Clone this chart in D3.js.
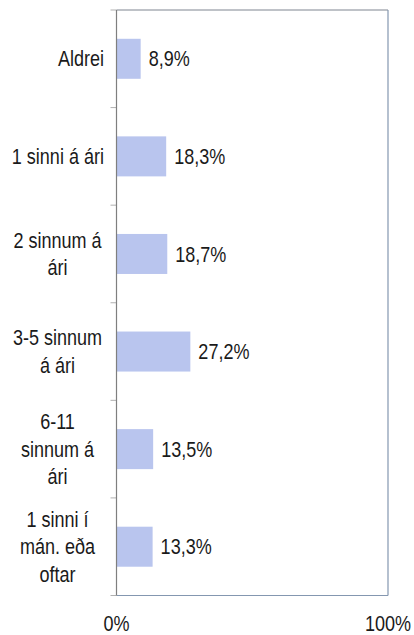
<!DOCTYPE html>
<html>
<head>
<meta charset="utf-8">
<script src="https://cdn.jsdelivr.net/npm/d3@7"></script>
<style>
  body { margin: 0; background: #fff; }
  svg text { font-family: "Liberation Sans", Arial, sans-serif; font-size: 22px; fill: #1a1a1a; }
</style>
</head>
<body>
<div id="chart"></div>
<script>
// category labels (line breaks as in the original chart)
const categories = [
    ["Aldrei"],
    ["1 sinni á ári"],
    ["2 sinnum á", "ári"],
    ["3-5 sinnum", "á ári"],
    ["6-11", "sinnum á", "ári"],
    ["1 sinni í", "mán. eða", "oftar"]
];
const values = [8.9, 18.3, 18.7, 27.2, 13.5, 13.3];
const xTicks = [0, 100];

const width = 414, height = 635;
const margin = {top: 10, right: 26, bottom: 39.5, left: 116.5};
const narrow = 0.82; // no Arial Narrow installed -> squeeze the regular face

let svg = d3.select("#chart").append("svg")
    .attr("width", width)
    .attr("height", height);

let keys = categories.map(function(d, i) { return i; });

let x = d3.scaleLinear()
    .domain([0, 100])
    .range([margin.left, width - margin.right]);

let y = d3.scaleBand()
    .domain(keys)
    .range([margin.top, height - margin.bottom]);

let barH = y.bandwidth() * 0.41;
let lineH = 27.5;

function place(px, py) {
    return "translate(" + px + "," + py + ") scale(" + narrow + ",1)";
}

// plot frame: top + right + bottom
svg.append("line")
    .attr("x1", x(0)).attr("x2", x(100))
    .attr("y1", margin.top).attr("y2", margin.top)
    .attr("stroke", "#7f8590").attr("stroke-width", 1);
svg.append("line")
    .attr("x1", x(100)).attr("x2", x(100))
    .attr("y1", margin.top).attr("y2", height - margin.bottom)
    .attr("stroke", "#8497b0").attr("stroke-width", 1.2);
svg.append("line")
    .attr("x1", x(0)).attr("x2", x(100))
    .attr("y1", height - margin.bottom).attr("y2", height - margin.bottom)
    .attr("stroke", "#8497b0").attr("stroke-width", 1.2);

// bars
svg.append("g")
    .selectAll("rect")
    .data(values)
    .enter().append("rect")
    .attr("x", x(0))
    .attr("y", function(d, i) { return y(i) + (y.bandwidth() - barH) / 2; })
    .attr("width", function(d) { return x(d) - x(0); })
    .attr("height", barH)
    .attr("fill", "#b9c5ee");

// value labels
svg.append("g")
    .selectAll("text")
    .data(values)
    .enter().append("text")
    .attr("transform", function(d, i) { return place(x(d) + 8, y(i) + y.bandwidth() / 2); })
    .attr("dy", "0.35em")
    .text(function(d) { return d.toFixed(1).replace(".", ",") + "%"; });

// left axis with ticks on band boundaries
let yTicks = keys.map(function(k) { return y(k); }).concat([height - margin.bottom]);
svg.append("g")
    .selectAll("line")
    .data(yTicks)
    .enter().append("line")
    .attr("x1", x(0) - 6).attr("x2", x(0))
    .attr("y1", function(d) { return d; }).attr("y2", function(d) { return d; })
    .attr("stroke", "#b0b0b0");
svg.append("line")
    .attr("x1", x(0)).attr("x2", x(0))
    .attr("y1", margin.top).attr("y2", height - margin.bottom)
    .attr("stroke", "#7f7f7f").attr("stroke-width", 1.2);

// category labels: single line right-aligned, wrapped ones centered
let labels = svg.append("g")
    .selectAll("text")
    .data(categories)
    .enter().append("text")
    .attr("text-anchor", function(d) { return d.length > 1 ? "middle" : "end"; })
    .attr("transform", function(d, i) {
        return place(d.length > 1 ? 57.5 : 104, y(i) + y.bandwidth() / 2);
    });
labels.each(function(lines) {
    let t = d3.select(this);
    let y0 = -(lines.length - 1) / 2 * lineH;
    lines.forEach(function(l, j) {
        t.append("tspan")
            .attr("x", 0)
            .attr("dy", j === 0 ? (y0 + 7.7) : lineH)
            .text(l);
    });
});

// bottom tick labels
svg.append("g")
    .selectAll("text")
    .data(xTicks)
    .enter().append("text")
    .attr("transform", function(d) { return place(x(d), height - 4); })
    .attr("text-anchor", "middle")
    .text(function(d) { return d + "%"; });
</script>
</body>
</html>
